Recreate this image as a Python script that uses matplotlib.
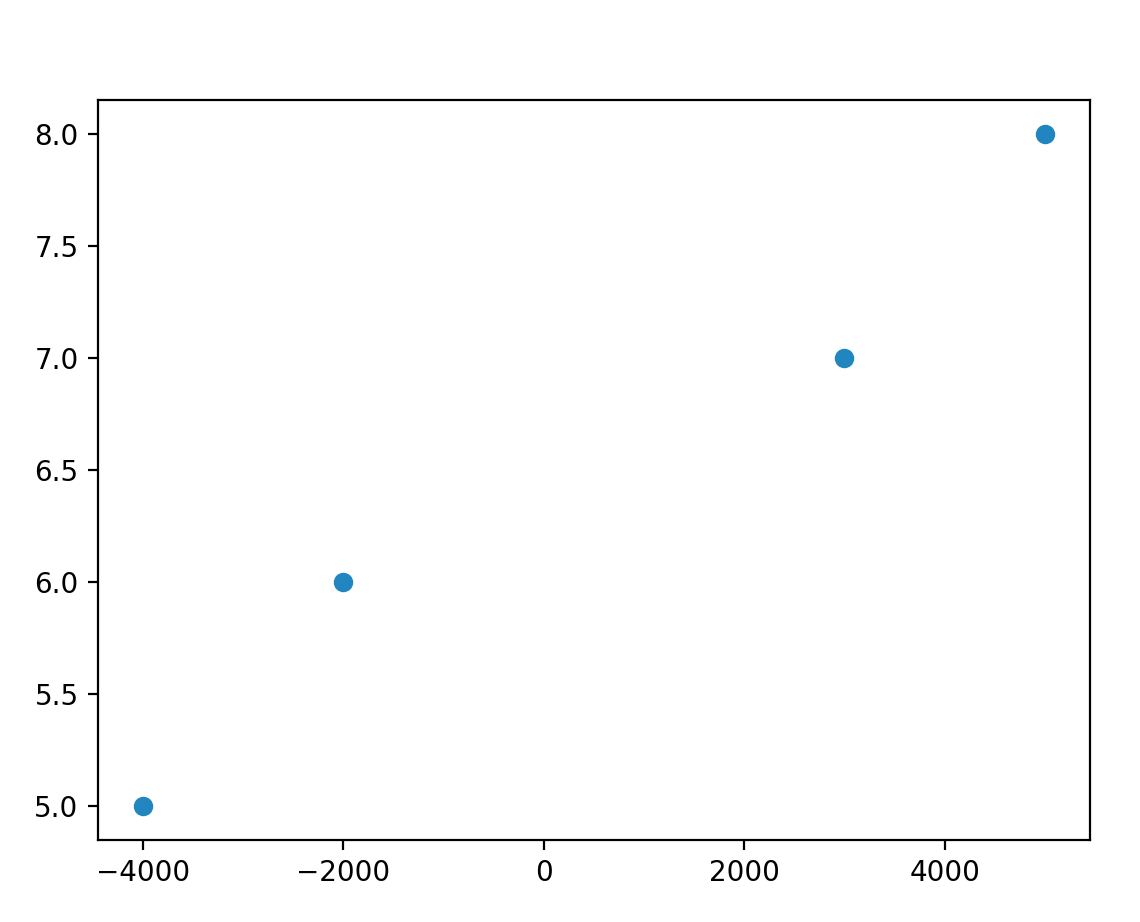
import matplotlib
matplotlib.use("Agg")
import matplotlib.pyplot as plt

# values
x_vals = [-4000, -2000, 3000, 5000]
y_vals = [5, 6, 7, 8]

fig, ax = plt.subplots(figsize=(5.7, 4.61))
fig.subplots_adjust(left=0.086, right=0.956, bottom=0.089, top=0.891)
ax.scatter(x_vals, y_vals, color="#2186c0")

fig.savefig("out.png", dpi=200)
